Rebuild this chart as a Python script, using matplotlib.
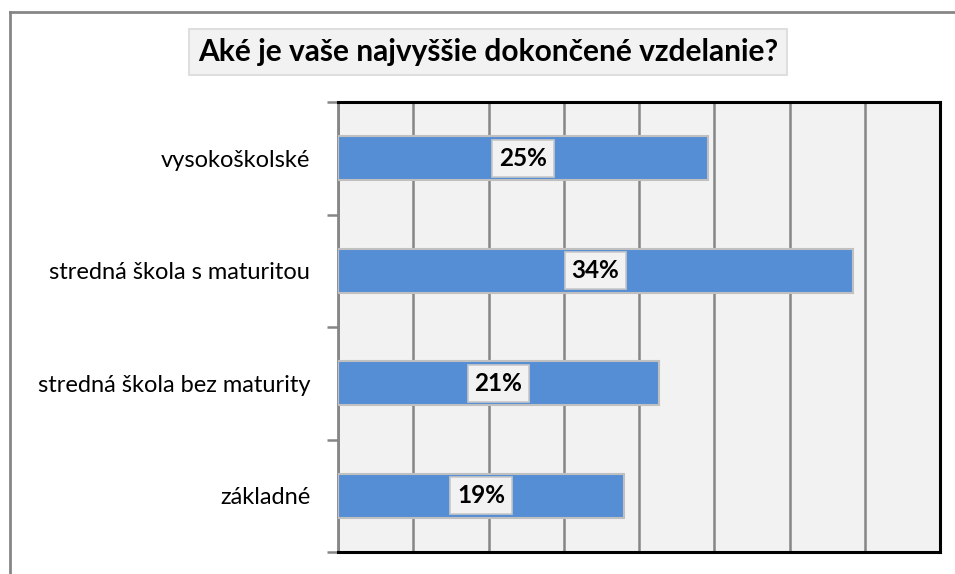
import matplotlib.pyplot as plt
from matplotlib.lines import Line2D

categories = ["základné", "stredná škola bez maturity", "stredná škola s maturitou", "vysokoškolské"]
values = [19.0, 21.3, 34.2, 24.6]
labels = ["19%", "21%", "34%", "25%"]

plt.rcParams["font.family"] = ["Lato", "DejaVu Sans"]

fig = plt.figure(figsize=(9.55, 5.74), dpi=100)
ax = fig.add_axes([338 / 955, 1 - 552 / 574, (940 - 338) / 955, (552 - 102) / 574])

ax.set_facecolor("#f2f2f2")
ypos = range(len(categories))
ax.barh(ypos, values, height=0.39, color="#558ed5", edgecolor="#c0c0c0", linewidth=1.5, zorder=3)

for y, v, lab in zip(ypos, values, labels):
    ax.text(v / 2, y, lab, ha="center", va="center", fontsize=17.5, fontweight="bold", color="black", zorder=4,
            bbox=dict(boxstyle="square,pad=0.28", facecolor="#f2f2f2", edgecolor="#c8c8c8", linewidth=1.2))

ax.set_xlim(0, 40)
ax.set_ylim(-0.5, len(categories) - 0.5)
ax.set_xticks(range(0, 41, 5))
ax.xaxis.grid(True, color="#868686", linewidth=1.8, zorder=1)
ax.tick_params(axis="x", length=0, labelbottom=False)

# category labels, tick marks at boundaries
ax.set_yticks(list(ypos))
ax.set_yticklabels(categories, fontsize=17)
ax.tick_params(axis="y", which="major", length=0, pad=20)
ax.set_yticks([i - 0.5 for i in range(len(categories) + 1)], minor=True)
ax.tick_params(axis="y", which="minor", length=8, width=1.8, color="#868686")

for side in ["top", "right", "bottom"]:
    ax.spines[side].set_color("black")
    ax.spines[side].set_linewidth(2.2)
ax.spines["left"].set_color("#868686")
ax.spines["left"].set_linewidth(2)

# title in a shaded box
fig.text(488 / 955, 1 - 52 / 574, "Aké je vaše najvyššie dokončené vzdelanie?", ha="center", va="center",
         fontsize=21.5, fontweight="bold",
         bbox=dict(boxstyle="square,pad=0.3", facecolor="#f2f2f2", edgecolor="#d9d9d9", linewidth=1.2))

# outer chart frame (left and top edges)
fig.add_artist(Line2D([10 / 955, 10 / 955], [0, 1 - 12 / 574], color="#868686", linewidth=2))
fig.add_artist(Line2D([10 / 955, 1], [1 - 12 / 574, 1 - 12 / 574], color="#868686", linewidth=2))

fig.savefig("out.png", dpi=100)
